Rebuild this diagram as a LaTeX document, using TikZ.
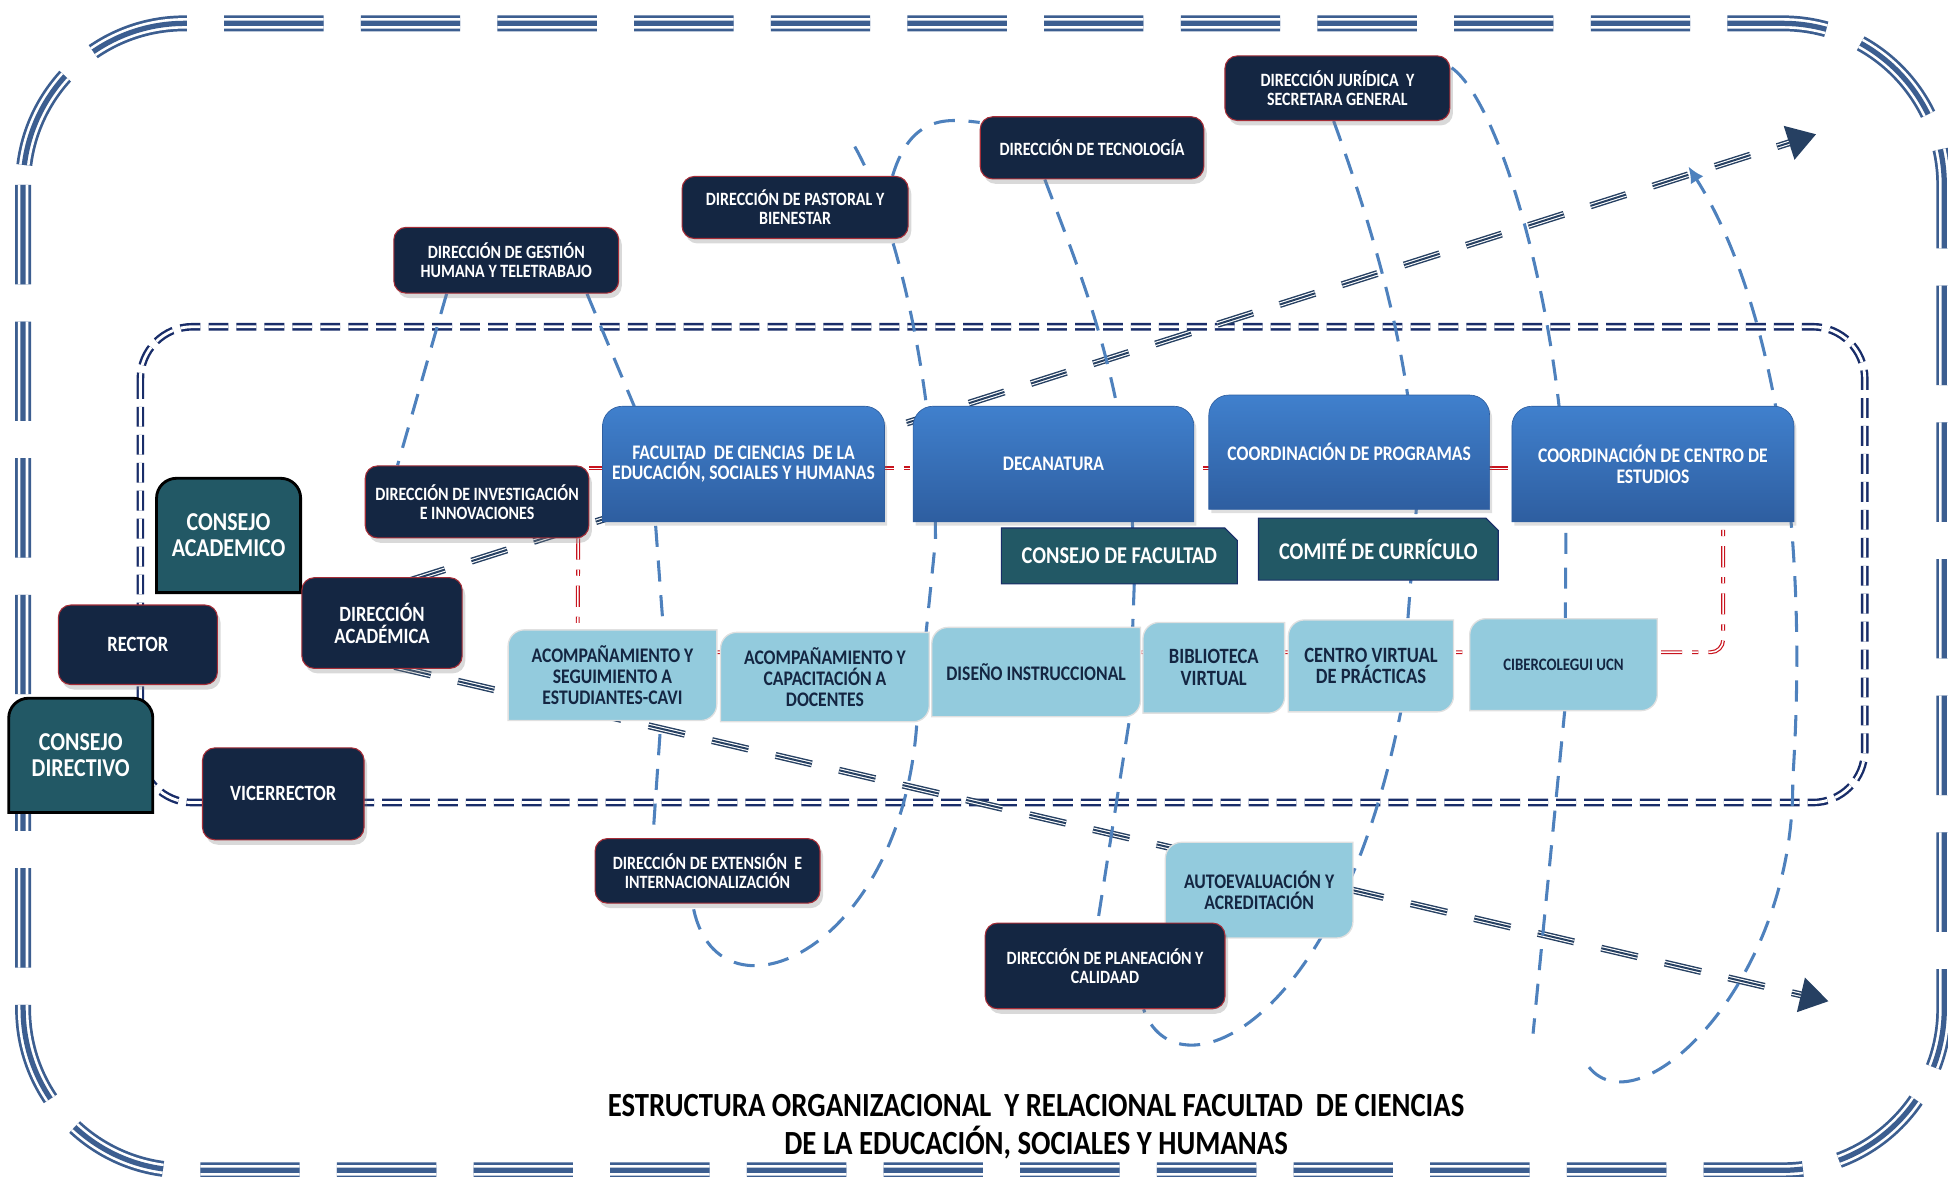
\documentclass[tikz,border=0pt]{standalone}
\usepackage{fontspec}
\setmainfont{Carlito}[FakeStretch=0.85]
\usetikzlibrary{calc,arrows.meta,shadows}

\definecolor{navybox}{RGB}{20,38,66}
\definecolor{tealbox}{RGB}{34,88,101}
\definecolor{skybox}{RGB}{147,203,221}
\definecolor{bluetop}{RGB}{64,128,205}
\definecolor{bluebot}{RGB}{46,94,160}
\definecolor{linkblue}{RGB}{78,129,189}
\definecolor{framemid}{RGB}{60,94,144}
\definecolor{framein}{RGB}{25,45,105}
\definecolor{arrownavy}{RGB}{38,64,98}
\definecolor{linkred}{RGB}{200,20,30}
\definecolor{edgered}{RGB}{165,45,55}

\newcommand\fsz[1]{\fontsize{#1}{#1}\selectfont\bfseries}

\pgfdeclarelayer{back}
\pgfdeclarelayer{boxes}
\pgfsetlayers{back,boxes,main}

%% outlines for boxes with mixed corners
\newcommand\boxroundtop[2]{%
  \path[#2] (#1.south west) -- ([yshift=-3.2mm]#1.north west)
    arc[start angle=180,end angle=90,radius=3.2mm] -- ([xshift=-3.2mm]#1.north east)
    arc[start angle=90,end angle=0,radius=3.2mm] -- (#1.south east) -- cycle;}
\newcommand\boxsnip[2]{%
  \path[#2] (#1.south west) -- (#1.north west) -- ([xshift=-2mm]#1.north east)
    -- ([yshift=-2mm]#1.north east) -- (#1.south east) -- cycle;}
\newcommand\boxdiag[2]{%
  \path[#2] (#1.south west) -- ([yshift=-2.6mm]#1.north west)
    arc[start angle=180,end angle=90,radius=2.6mm] -- (#1.north east)
    -- ([yshift=2.6mm]#1.south east) arc[start angle=0,end angle=-90,radius=2.6mm] -- cycle;}

\tikzset{
  fs/.style={font=\fsz{#1}},
  wh/.style 2 args={minimum width=#1,minimum height=#2},
  office/.style={draw=edgered,line width=0.5pt,fill=navybox,text=white,rounded corners=2mm,
    align=center,inner sep=1pt,drop shadow={opacity=0.3,shadow xshift=0.5mm,shadow yshift=-0.8mm}},
  shell/.style={align=center,inner sep=0pt,outer sep=0pt},
  dark/.style={shell,text=white},
  light/.style={shell,text=navybox},
  bluefill/.style={top color=bluetop,bottom color=bluebot,draw=bluebot,line width=0.3pt,
    drop shadow={opacity=0.25,shadow xshift=0.4mm,shadow yshift=-0.6mm}},
  tealfill/.style={fill=tealbox,draw=black,line width=1.3pt},
  snipfill/.style={fill=tealbox,draw=framein,line width=0.5pt},
  skyfill/.style={fill=skybox,draw=black!12,line width=0.6pt},
  bluelink/.style={draw=linkblue,line width=1.4pt,dash pattern=on 3.4mm off 2.2mm},
  redlink/.style={draw=linkred,double=white,line width=0.55pt,double distance=0.7pt,
    dash pattern=on 3.4mm off 1.6mm on 1mm off 1.6mm},
  innerframe/.style={draw=framein,double=white,line width=1.1pt,double distance=1.3pt,
    dash pattern=on 3.2mm off 1.3mm,rounded corners=8.4mm},
  outerframe/.style={draw=framemid,line width=7.3pt,dash pattern=on 16mm off 6mm,rounded corners=26mm,
    postaction={draw=white,line width=4.8pt,dash pattern=on 16mm off 6mm},
    postaction={draw=framemid,line width=2.4pt,dash pattern=on 16mm off 6mm}},
  bigarrow/.style={draw=arrownavy,line width=3.2pt,dash pattern=on 6mm off 4.5mm,
    -{Triangle[length=4.6mm,width=5.4mm]},
    postaction={draw=white,-,line width=1.9pt,dash pattern=on 6mm off 4.5mm,shorten >=4.6mm},
    postaction={draw=arrownavy,-,line width=0.9pt,dash pattern=on 6mm off 4.5mm,shorten >=4.6mm}},
}

\begin{document}
\begin{tikzpicture}[x=0.2mm,y=-0.2mm]
  \useasboundingbox (0,0) rectangle (1568,947);
  %% Upper offices
  \node[office,fs=8.6,wh={36.2mm}{10.6mm}] (gest) at (407.5,209.5) {DIRECCIÓN DE GESTIÓN\\HUMANA Y TELETRABAJO};
  \node[office,fs=8.6,wh={36.4mm}{10mm}] (past) at (640,167) {DIRECCIÓN DE PASTORAL Y\\BIENESTAR};
  \node[office,fs=8.6,wh={36mm}{10mm}] (tecn) at (879,119) {DIRECCIÓN DE TECNOLOGÍA};
  \node[office,fs=8.6,wh={36.2mm}{10.4mm}] (jur) at (1076.5,71) {DIRECCIÓN JURÍDICA\ \ Y\\SECRETARA GENERAL};
  \node[office,fs=8.6,wh={36mm}{11.6mm}] (inv) at (384,404) {DIRECCIÓN DE INVESTIGACIÓN\\E INNOVACIONES};
  %% Governing bodies
  \node[dark,fs=11.8,wh={23.2mm}{18.4mm}] (cacad) at (184,431) {CONSEJO\\ACADEMICO};
  \node[office,fs=10,wh={25.6mm}{12.8mm}] (rector) at (111,519) {RECTOR};
  \node[office,fs=10,wh={25.8mm}{14.6mm}] (dacad) at (307.5,501.5) {DIRECCIÓN\\ACADÉMICA};
  \node[dark,fs=11.8,wh={23.2mm}{18.4mm}] (cdir) at (65,608) {CONSEJO\\DIRECTIVO};
  \node[office,fs=10,wh={26mm}{14.8mm}] (vice) at (228,639) {VICERRECTOR};
  %% Faculty row
  \node[dark,fs=9.5,wh={45.4mm}{18.6mm}] (fac) at (598.5,373.5) {FACULTAD\ \ DE CIENCIAS\ \ DE LA\\EDUCACIÓN, SOCIALES Y HUMANAS};
  \node[dark,fs=9.5,wh={45.2mm}{18.6mm}] (dec) at (848,373.5) {DECANATURA};
  \node[dark,fs=9.5,wh={45.2mm}{18.4mm}] (cprog) at (1086,364) {COORDINACIÓN DE PROGRAMAS};
  \node[dark,fs=9.5,wh={45.4mm}{18.6mm}] (ccen) at (1330.5,373.5) {COORDINACIÓN DE CENTRO DE\\ESTUDIOS};
  \node[dark,fs=11,wh={38mm}{9mm}] (cfac) at (901,447.5) {CONSEJO DE FACULTAD};
  \node[dark,fs=11,wh={38.6mm}{10mm}] (ccur) at (1109.5,442) {COMITÉ DE CURRÍCULO};
  %% Support units
  \node[light,fs=9.5,wh={33.6mm}{14.6mm}] (cavi) at (493,543.5) {ACOMPAÑAMIENTO Y\\SEGUIMIENTO A\\ESTUDIANTES-CAVI};
  \node[light,fs=9.5,wh={33.6mm}{14.4mm}] (doc) at (664,545) {ACOMPAÑAMIENTO Y\\CAPACITACIÓN A\\DOCENTES};
  \node[light,fs=9.5,wh={33.6mm}{14.4mm}] (dis) at (834,541) {DISEÑO INSTRUCCIONAL};
  \node[light,fs=10,wh={22.8mm}{14.6mm}] (bib) at (977,537.5) {BIBLIOTECA\\VIRTUAL};
  \node[light,fs=10,wh={26.6mm}{14.8mm}] (cvir) at (1103.5,536) {CENTRO VIRTUAL\\DE PRÁCTICAS};
  \node[light,fs=8,wh={30.2mm}{14.8mm}] (ciber) at (1258.5,535) {CIBERCOLEGUI UCN};
  \node[light,fs=9.5,wh={30.2mm}{15.4mm}] (auto) at (1013.5,716.5) {AUTOEVALUACIÓN Y\\ACREDITACIÓN};
  %% Lower offices
  \node[office,fs=8.6,wh={36.2mm}{10.4mm}] (ext) at (569.5,701) {DIRECCIÓN DE EXTENSIÓN\ \ E\\INTERNACIONALIZACIÓN};
  \node[office,fs=8.6,wh={38.6mm}{13.8mm}] (plan) at (889.5,777.5) {DIRECCIÓN DE PLANEACIÓN Y\\CALIDAAD};
  %% Title
  \node[font=\fontsize{15.5}{17.5}\selectfont\bfseries,align=center] (title) at (834,907)
    {ESTRUCTURA ORGANIZACIONAL\ \ Y RELACIONAL FACULTAD\ \ DE CIENCIAS\\DE LA EDUCACIÓN, SOCIALES Y HUMANAS};

  %% Box backgrounds
  \begin{pgfonlayer}{boxes}
    \foreach \n in {fac,dec,cprog,ccen} {\boxroundtop{\n}{bluefill}}
    \foreach \n in {cacad,cdir} {\boxroundtop{\n}{tealfill}}
    \foreach \n in {cfac,ccur} {\boxsnip{\n}{snipfill}}
    \foreach \n in {cavi,doc,dis,bib,cvir,ciber,auto} {\boxdiag{\n}{skyfill}}
  \end{pgfonlayer}

  \begin{pgfonlayer}{back}
    %% Frames
    \draw[outerframe] (18.6,18.8) rectangle (1565,942);
    \draw[innerframe] (113,263) rectangle (1501,646);
    %% Big arrows
    \coordinate (upend) at (1462,108);
    \coordinate (downend) at (1472,806);
    \draw[bigarrow] ($(dacad.north)+(22,3)$) -- (upend);
    \draw[bigarrow] ($(dacad.south)+(10,-2)$) -- (downend);
    %% Red links
    \draw[redlink] ($(fac.west -| inv.east)+(0,3.5)$) -- ($(ccen.west)+(0,3.5)$);
    \draw[redlink] ($(inv.south east)+(-9,0)$) -- ($(cavi.north west)+(56,0)$);
    \draw[redlink,rounded corners=2mm] ($(cavi.east)+(0,-18.5)$) -| ($(ccen.south)+(56.5,0)$);
    %% Dashed links
    \coordinate (pasttop) at (688,118);
    \coordinate (c5end) at (1234,832);
    \coordinate (u3start) at (1279,859);
    \coordinate (u3tip) at (1359,134);
    \draw[bluelink] ($(gest.south)+(-48,0)$) -- ($(inv.north)+(-64,0)$);
    \draw[bluelink] ($(gest.south)+(65,0)$) -- ($(fac.north)+(-88,0)$) -- ($(fac.south)+(-71,0)$)
      -- ($(cavi.north)+(41,0)$) -- ($(cavi.south)+(39,0)$) -- ($(ext.north)+(-44,0)$);
    \draw[bluelink] (pasttop) .. controls +(35,62) and +(0,-120) .. ($(dec.south west)+(18,15)$)
      -- ($(dis.south west)+(-12,5)$) .. controls +(-13,188) and +(17,103) .. ($(ext.south)+(-12,0)$);
    \draw[bluelink] ($(past.north east)+(-13,0)$) .. controls +(15,-50) and +(-25,-3) .. ($(tecn.north west)+(0,5)$);
    \draw[bluelink] ($(tecn.south)+(-38,0)$) .. controls +(30,80) and +(0,-150) .. ($(cfac.south)+(12,0)$)
      -- ($(dis.south east)+(-9,3)$) -- ($(plan.north)+(-6,0)$);
    \draw[bluelink] ($(jur.south)+(-3,0)$) .. controls +(40,110) and +(0,-100) .. ($(cprog.south)+(54,0)$)
      -- ($(cvir.south)+(24,0)$) .. controls +(-52,260) and +(24.5,70) .. ($(plan.south)+(31,0)$);
    \draw[bluelink] ($(jur.north east)+(1,10)$) .. controls +(42,30) and +(0,-150) .. ($(ccen.south)+(-70,0)$)
      -- ($(ciber.south)+(1,0)$) -- (c5end);
    \draw[bluelink,-{Latex[length=2.6mm,width=2.4mm]}] (u3start) .. controls +(41,51) and +(2,162) .. ++(164,-231)
      .. controls +(15,-228) and +(61,96) .. (u3tip);
  \end{pgfonlayer}
\end{tikzpicture}
\end{document}
